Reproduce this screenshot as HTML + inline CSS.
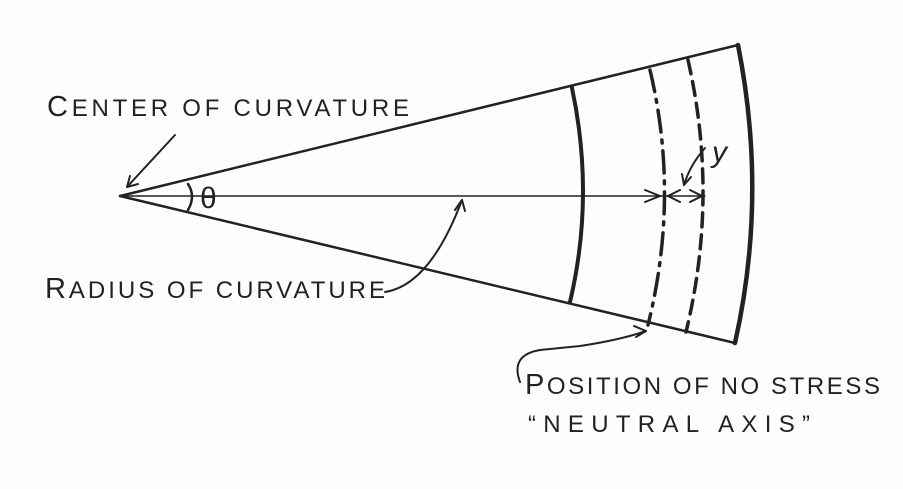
<!DOCTYPE html>
<html><head><style>
body{margin:0;background:#fff;}
svg{display:block;}
text{font-family:"Liberation Sans",sans-serif;fill:#222;}
</style></head><body>
<svg width="903" height="489" viewBox="0 0 903 489" xmlns="http://www.w3.org/2000/svg">
<rect width="903" height="489" fill="#fdfdfd"/>
<g stroke="#222" fill="none" stroke-linecap="round">
<line x1="120" y1="196" x2="738" y2="45" stroke-width="2.5"/>
<line x1="120" y1="196" x2="735" y2="343" stroke-width="2.5"/>
<line x1="120" y1="196" x2="705" y2="196" stroke-width="1.5"/>
<path d="M738 45 Q768 196 735 343" stroke-width="4.5"/>
<path d="M572 88 Q595 196 570 302" stroke-width="4"/>
<path d="M650 70 Q680 196 648 325" stroke-width="3.5" stroke-dasharray="22 8 3 8"/>
<path d="M688 60 Q719 196 686 332" stroke-width="3.5" stroke-dasharray="14 8"/>
<path d="M188 184 Q196 196 188 210" stroke-width="2.5"/>
<line x1="175" y1="135" x2="127" y2="187" stroke-width="2"/>
<path d="M127 187 L130 176 M127 187 L138 184" stroke-width="2"/>
<path d="M385 292 Q430 285 462 200" stroke-width="2"/>
<path d="M462 200 L455 210 M462 200 L465 211" stroke-width="2"/>
<path d="M645 190 L660 196 L645 202 M690 190 L702 196 L690 202 M680 190 L668 196 L680 202" stroke-width="2"/>
<path d="M705 148 Q690 165 684 185" stroke-width="2"/>
<path d="M684 185 L682 174 M684 185 L691 177" stroke-width="2"/>
<path d="M520 382 Q510 355 540 350 L580 346 Q620 340 646 331" stroke-width="2"/>
<path d="M646 331 L634 326 M646 331 L636 337" stroke-width="2"/>
</g>
<text x="200" y="208" font-size="30">θ</text>
<text x="712" y="162" font-size="30" font-style="italic">y</text>
<text x="47" y="116" font-size="29" textLength="362" lengthAdjust="spacing">C<tspan font-size="24">ENTER OF CURVATURE</tspan></text>
<text x="45" y="298" font-size="29" textLength="340" lengthAdjust="spacing">R<tspan font-size="24">ADIUS OF CURVATURE</tspan></text>
<text x="525" y="394" font-size="29" textLength="355" lengthAdjust="spacing">P<tspan font-size="24">OSITION OF NO STRESS</tspan></text>
<text x="528" y="432" font-size="24" textLength="282" lengthAdjust="spacing">“NEUTRAL AXIS”</text>
</svg>
</body></html>
